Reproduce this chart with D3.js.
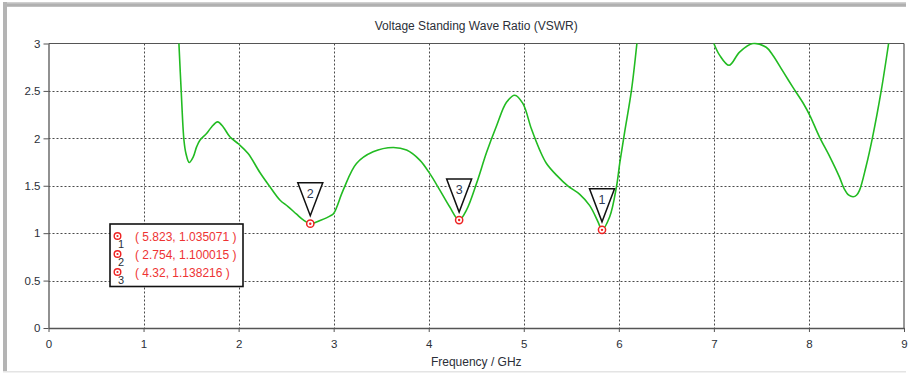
<!DOCTYPE html>
<html>
<head>
<meta charset="utf-8">
<script src="https://cdn.jsdelivr.net/npm/d3@7"></script>
<style>
  html, body { margin: 0; padding: 0; background: #fff; }
  svg { display: block; }
  text { font-family: "Liberation Sans", Arial, sans-serif; }
</style>
</head>
<body>
<svg id="chart" width="912" height="374"></svg>
<script>
// ---------------- data ----------------
const title = "Voltage Standing Wave Ratio (VSWR)";
const xAxisTitle = "Frequency / GHz";
const xTicks = [0, 1, 2, 3, 4, 5, 6, 7, 8, 9];
const yTicks = [0, 0.5, 1, 1.5, 2, 2.5, 3];

// VSWR curve (null = curve off-scale above 3)
const freq = [1.372, 1.396, 1.425, 1.446, 1.48, 1.523, 1.558, 1.593, 1.663, 1.716, 1.779, 1.838, 1.908, 2.0, 2.10,
  2.224, 2.329, 2.434, 2.52, 2.61, 2.68, 2.754, 2.87, 2.96, 3.0, 3.10, 3.24, 3.415, 3.626, 3.767, 3.906, 4.01, 4.117, 4.22,
  4.32, 4.397, 4.503, 4.608, 4.713, 4.818, 4.905, 4.99, 5.08, 5.168, 5.239, 5.344, 5.466, 5.589, 5.694, 5.781,
  5.823, 5.904, 5.975, 6.01, 6.062, 6.132, 6.19,
  6.6,
  7.0, 7.06, 7.16, 7.27, 7.41, 7.55, 7.62, 7.73, 7.83, 7.94, 8.01, 8.11, 8.22, 8.32, 8.37, 8.42, 8.466, 8.50, 8.533, 8.60,
  8.67, 8.76, 8.838];
const vswr = [3.0, 2.5, 1.98, 1.84, 1.746, 1.805, 1.91, 1.98, 2.05, 2.12, 2.174, 2.12, 2.016, 1.94, 1.84,
  1.64, 1.49, 1.35, 1.28, 1.20, 1.14, 1.100, 1.14, 1.18, 1.208, 1.454, 1.735, 1.858, 1.904, 1.876, 1.77, 1.63, 1.454, 1.278,
  1.138, 1.243, 1.525, 1.85, 2.13, 2.38, 2.455, 2.368, 2.10, 1.876, 1.735, 1.612, 1.496, 1.41, 1.29, 1.12,
  1.035, 1.173, 1.489, 1.74, 2.07, 2.5, 3.0,
  null,
  3.0, 2.877, 2.77, 2.91, 3.0, 2.96, 2.877, 2.70, 2.54, 2.37, 2.24, 2.016, 1.805, 1.594, 1.47, 1.40, 1.384, 1.40, 1.454, 1.70,
  2.016, 2.50, 3.0];

// markers
const markerLabels = ["1", "2", "3"];
const markerFreq = [5.823, 2.754, 4.32];
const markerVal = [1.035071, 1.100015, 1.138216];

// ---------------- drawing ----------------
const svg = d3.select("#chart");
const plot = { left: 48.5, right: 904, top: 43.5, bottom: 328 };

const x = d3.scaleLinear().domain([0, 9]).range([plot.left, plot.right]);
const y = d3.scaleLinear().domain([0, 3]).range([plot.bottom, plot.top]);

// window-like frame
const defs = svg.append("defs");
const grad = defs.append("linearGradient").attr("id", "topbar").attr("x1", 0).attr("y1", 0).attr("x2", 0).attr("y2", 1);
grad.append("stop").attr("offset", "0%").attr("stop-color", "#d8d8d8");
grad.append("stop").attr("offset", "60%").attr("stop-color", "#a8a8a8");
grad.append("stop").attr("offset", "100%").attr("stop-color", "#c8c8c8");
svg.append("rect").attr("x", 3).attr("y", 2).attr("width", 903).attr("height", 5).attr("fill", "url(#topbar)");
svg.append("rect").attr("x", 3).attr("y", 2).attr("width", 4).attr("height", 369).attr("fill", "#b4b4b4");
svg.append("rect").attr("x", 3).attr("y", 371).attr("width", 903).attr("height", 1.5).attr("fill", "#e4e4e4");

defs.append("clipPath").attr("id", "clip").append("rect")
  .attr("x", plot.left).attr("y", plot.top - 1)
  .attr("width", plot.right - plot.left).attr("height", plot.bottom - plot.top + 1);

// grid
const grid = svg.append("g").attr("stroke", "#4a4a4a").attr("stroke-width", 1).attr("stroke-dasharray", "2,2");
grid.selectAll("line.v").data(xTicks.filter(t => t > 0 && t < 9)).join("line")
  .attr("x1", d => Math.round(x(d)) + 0.5).attr("x2", d => Math.round(x(d)) + 0.5)
  .attr("y1", plot.top).attr("y2", plot.bottom);
grid.selectAll("line.h").data(yTicks.filter(t => t > 0 && t < 3)).join("line")
  .attr("y1", d => Math.round(y(d)) + 0.5).attr("y2", d => Math.round(y(d)) + 0.5)
  .attr("x1", plot.left).attr("x2", plot.right);

// plot frame top/right
svg.append("line").attr("x1", plot.left).attr("x2", plot.right).attr("y1", plot.top).attr("y2", plot.top)
  .attr("stroke", "#555").attr("stroke-width", 1.2);
svg.append("line").attr("x1", plot.right).attr("x2", plot.right).attr("y1", plot.top).attr("y2", plot.bottom)
  .attr("stroke", "#555").attr("stroke-width", 1.2);

// axes
const fmt = d => String(d);
const xAxis = svg.append("g").attr("transform", `translate(0,${plot.bottom})`)
  .call(d3.axisBottom(x).tickValues(xTicks).tickFormat(fmt).tickSize(4).tickSizeOuter(0).tickPadding(8));
const yAxis = svg.append("g").attr("transform", `translate(${plot.left},0)`)
  .call(d3.axisLeft(y).tickValues(yTicks).tickFormat(fmt).tickSize(5).tickSizeOuter(0).tickPadding(3));
[xAxis, yAxis].forEach(a => {
  a.select(".domain").attr("stroke", "#555").attr("stroke-width", 1.3);
  a.selectAll(".tick line").attr("stroke", "#555");
  a.selectAll(".tick text").attr("fill", "#2b2f38").style("font-size", "11.5px")
    .style("font-family", "'Liberation Sans', Arial, sans-serif");
});

// titles
svg.append("text").attr("x", (plot.left + plot.right) / 2).attr("y", 29.5)
  .attr("text-anchor", "middle").attr("fill", "#2b2f38").style("font-size", "12px").text(title);
svg.append("text").attr("x", (plot.left + plot.right) / 2).attr("y", 366)
  .attr("text-anchor", "middle").attr("fill", "#2b2f38").style("font-size", "12px").text(xAxisTitle);

// curve
const pts = freq.map((f, i) => ({ f, v: vswr[i] }));
const line = d3.line().defined(d => d.v !== null).x(d => x(d.f)).y(d => y(d.v)).curve(d3.curveCatmullRom.alpha(0.5));
svg.append("g").attr("clip-path", "url(#clip)").append("path")
  .datum(pts).attr("d", line).attr("fill", "none").attr("stroke", "#22bb22").attr("stroke-width", 1.6);

// markers
const mk = markerLabels.map((l, i) => ({ l, f: markerFreq[i], v: markerVal[i] }));
const mg = svg.append("g");
mk.forEach(d => {
  const cx = x(d.f), cy = y(d.v);
  const apex = cy - 8, topY = apex - 33, hw = 12.5;
  mg.append("path").attr("d", `M${cx - hw},${topY}L${cx + hw},${topY}L${cx},${apex}Z`)
    .attr("fill", "#fff").attr("stroke", "#111").attr("stroke-width", 1.5).attr("stroke-linejoin", "miter");
  mg.append("text").attr("x", cx).attr("y", topY + 15).attr("text-anchor", "middle")
    .attr("fill", "#2f3b55").style("font-size", "12.5px").text(d.l);
  mg.append("circle").attr("cx", cx).attr("cy", cy).attr("r", 3.6)
    .attr("fill", "#fff").attr("stroke", "#ee2222").attr("stroke-width", 1.5);
  mg.append("circle").attr("cx", cx).attr("cy", cy).attr("r", 1.2).attr("fill", "#ee2222");
});

// legend
const lg = svg.append("g");
lg.append("rect").attr("x", 110).attr("y", 224).attr("width", 133).attr("height", 62.5)
  .attr("fill", "#fff").attr("stroke", "#111").attr("stroke-width", 1.6);
mk.forEach((d, i) => {
  const cy = 236 + 18 * i;
  lg.append("circle").attr("cx", 117.5).attr("cy", cy).attr("r", 3.3)
    .attr("fill", "#fff").attr("stroke", "#ee2222").attr("stroke-width", 1.4);
  lg.append("circle").attr("cx", 117.5).attr("cy", cy).attr("r", 1.1).attr("fill", "#ee2222");
  lg.append("text").attr("x", 118).attr("y", cy + 11.5).attr("fill", "#2b2f38").style("font-size", "11px").text(d.l);
  lg.append("text").attr("x", 135).attr("y", cy + 4.5).attr("fill", "#ee3333").style("font-size", "12px")
    .text(`( ${d.f}, ${d.v} )`);
});
</script>
</body>
</html>
